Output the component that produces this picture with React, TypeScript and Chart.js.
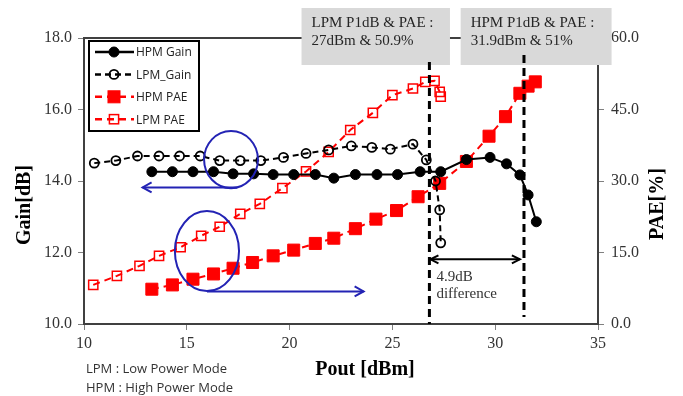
import React, { useEffect, useRef } from 'react';
import { Chart, registerables } from 'chart.js';

Chart.register(...registerables);

// ---- data ----
const hpmGainX = [13.3, 14.3, 15.3, 16.3, 17.25, 18.25, 19.2, 20.2, 21.25, 22.15, 23.2, 24.25, 25.25, 26.35, 27.35, 28.6, 29.75, 30.55, 31.2, 31.6, 32.0];
const hpmGainY = [14.26, 14.26, 14.26, 14.26, 14.2, 14.2, 14.18, 14.18, 14.18, 14.08, 14.18, 14.18, 14.18, 14.26, 14.26, 14.6, 14.66, 14.48, 14.17, 13.61, 12.86];

const lpmGainX = [10.5, 11.55, 12.6, 13.65, 14.65, 15.65, 16.6, 17.6, 18.6, 19.7, 20.8, 21.9, 23.0, 24.0, 24.9, 26.0, 26.65, 27.1, 27.3, 27.35];
const lpmGainY = [14.5, 14.57, 14.7, 14.7, 14.7, 14.7, 14.57, 14.57, 14.57, 14.66, 14.77, 14.87, 14.98, 14.94, 14.89, 15.03, 14.59, 14.0, 13.19, 12.27];

const hpmPaeX = [13.3, 14.3, 15.3, 16.3, 17.25, 18.2, 19.2, 20.2, 21.25, 22.15, 23.2, 24.2, 25.2, 26.25, 27.3, 28.6, 29.7, 30.5, 31.2, 31.6, 31.95];
const hpmPaeY = [7.3, 8.2, 9.4, 10.5, 11.7, 12.9, 14.3, 15.5, 16.9, 18.0, 20.0, 22.0, 23.8, 26.7, 29.5, 34.1, 39.4, 43.5, 48.4, 49.9, 50.8];

const lpmPaeX = [10.45, 11.6, 12.7, 13.65, 14.7, 15.7, 16.6, 17.6, 18.55, 19.65, 20.8, 21.9, 22.95, 24.05, 25.0, 26.0, 26.6, 27.05, 27.3, 27.35];
const lpmPaeY = [8.2, 10.1, 12.2, 14.3, 16.1, 18.5, 20.4, 23.1, 25.2, 28.5, 32.0, 36.1, 40.7, 44.3, 48.0, 49.4, 50.8, 51.0, 48.7, 47.7];

const seriesLabels = ['HPM Gain', 'LPM_Gain', 'HPM PAE', 'LPM PAE'];

const xRange = [10, 35];
const gainRange = [10, 18];
const paeRange = [0, 60];
const xStep = 5;
const gainStep = 2;
const paeStep = 15;

// annotation values (in data units)
const p1dbLines = [26.8, 31.4]; // dBm
const annotationTexts = [
  ['LPM P1dB & PAE :', '27dBm & 50.9%'],
  ['HPM P1dB & PAE :', '31.9dBm & 51%'],
];
const annotationBoxX = [[20.58, 27.8], [28.32, 35.66]];
const diffTexts = ['4.9dB', 'difference'];
const diffArrow = { from: 26.85, to: 31.2, gain: 11.81 };
const ellipses = [
  { x: 17.15, gain: 14.6, rx: 1.31, ry: 0.8 },
  { x: 15.98, gain: 12.04, rx: 1.56, ry: 1.12 },
];
const blueArrows = [
  { from: 17.45, to: 12.85, gain: 13.82 },
  { from: 15.98, to: 23.6, gain: 10.91 },
];
const notes = ['LPM : Low Power Mode', 'HPM : High Power Mode'];
const axisTitles = { x: 'Pout [dBm]', y: 'Gain[dB]', y2: 'PAE[%]' };

const toXY = (xs: number[], ys: number[]) => xs.map((x, i) => ({ x, y: ys[i] }));

const SERIF = '"Liberation Serif", "Times New Roman", serif';
const SANS = '"Open Sans", "Noto Sans", sans-serif';

function chevron(ctx: CanvasRenderingContext2D, x: number, y: number, dir: number, len = 9, half = 5) {
  ctx.beginPath();
  ctx.moveTo(x - dir * len, y - half);
  ctx.lineTo(x, y);
  ctx.lineTo(x - dir * len, y + half);
  ctx.stroke();
}

const overlay = {
  id: 'overlay',
  afterDraw(chart: any) {
    const { ctx, chartArea: a, scales } = chart;
    const xs = scales.x;
    const yg = scales.y;
    ctx.save();

    // top frame line
    ctx.strokeStyle = '#404040';
    ctx.lineWidth = 2;
    ctx.beginPath();
    ctx.moveTo(a.left, a.top);
    ctx.lineTo(a.right, a.top);
    ctx.stroke();

    // annotation boxes
    annotationTexts.forEach((lines, i) => {
      const x0 = xs.getPixelForValue(annotationBoxX[i][0]);
      const x1 = xs.getPixelForValue(annotationBoxX[i][1]);
      const y0 = a.top - 30;
      const y1 = a.top + 27;
      ctx.fillStyle = '#d9d9d9';
      ctx.fillRect(x0, y0, x1 - x0, y1 - y0);
      ctx.fillStyle = '#262626';
      ctx.font = `15px ${SERIF}`;
      ctx.textAlign = 'left';
      ctx.textBaseline = 'middle';
      ctx.fillText(lines[0], x0 + 10, y0 + 15);
      ctx.fillText(lines[1], x0 + 10, y0 + 33);
    });

    // vertical dashed P1dB lines
    ctx.strokeStyle = '#000';
    ctx.lineWidth = 3;
    ctx.setLineDash([8, 5]);
    const tops = [a.top + 24, a.top + 17];
    const bottoms = [a.bottom, a.bottom - 7];
    p1dbLines.forEach((v, i) => {
      const px = xs.getPixelForValue(v);
      ctx.beginPath();
      ctx.moveTo(px, tops[i]);
      ctx.lineTo(px, bottoms[i]);
      ctx.stroke();
    });
    ctx.setLineDash([]);

    // double arrow
    const dy = yg.getPixelForValue(diffArrow.gain);
    const dx0 = xs.getPixelForValue(diffArrow.from);
    const dx1 = xs.getPixelForValue(diffArrow.to);
    ctx.lineWidth = 2;
    ctx.beginPath();
    ctx.moveTo(dx0, dy);
    ctx.lineTo(dx1, dy);
    ctx.stroke();
    chevron(ctx, dx0, dy, -1, 8, 4);
    chevron(ctx, dx1, dy, 1, 8, 4);
    ctx.fillStyle = '#333';
    ctx.font = `15px ${SERIF}`;
    ctx.textAlign = 'left';
    ctx.textBaseline = 'middle';
    ctx.fillText(diffTexts[0], dx0 + 6, dy + 18);
    ctx.fillText(diffTexts[1], dx0 + 6, dy + 35);

    // blue ellipses and arrows
    ctx.strokeStyle = '#2323b4';
    ctx.lineWidth = 2;
    const pxPerX = Math.abs(xs.getPixelForValue(1) - xs.getPixelForValue(0));
    const pxPerG = Math.abs(yg.getPixelForValue(1) - yg.getPixelForValue(0));
    ellipses.forEach((e) => {
      ctx.beginPath();
      ctx.ellipse(xs.getPixelForValue(e.x), yg.getPixelForValue(e.gain), e.rx * pxPerX, e.ry * pxPerG, 0, 0, Math.PI * 2);
      ctx.stroke();
    });
    blueArrows.forEach((ar) => {
      const y = yg.getPixelForValue(ar.gain);
      const x0 = xs.getPixelForValue(ar.from);
      const x1 = xs.getPixelForValue(ar.to);
      ctx.beginPath();
      ctx.moveTo(x0, y);
      ctx.lineTo(x1, y);
      ctx.stroke();
      chevron(ctx, x1, y, x1 > x0 ? 1 : -1, 9, 5);
    });

    // legend
    const lx = a.left + 5;
    const ly = a.top + 3;
    ctx.fillStyle = '#fff';
    ctx.fillRect(lx, ly, 110, 90);
    ctx.strokeStyle = '#000';
    ctx.lineWidth = 2;
    ctx.strokeRect(lx, ly, 110, 90);
    const dsets = chart.data.datasets;
    dsets.forEach((ds: any, i: number) => {
      const y = ly + 11 + i * 22.4;
      ctx.strokeStyle = ds.borderColor;
      ctx.lineWidth = 2.5;
      ctx.setLineDash(ds.borderDash || []);
      ctx.beginPath();
      ctx.moveTo(lx + 6, y);
      ctx.lineTo(lx + 45, y);
      ctx.stroke();
      ctx.setLineDash([]);
      const mx = lx + 25;
      ctx.lineWidth = ds.pointBorderWidth;
      ctx.strokeStyle = ds.pointBorderColor;
      ctx.fillStyle = ds.pointBackgroundColor;
      if (ds.pointStyle === 'circle') {
        ctx.beginPath();
        ctx.arc(mx, y, ds.pointRadius, 0, Math.PI * 2);
        ctx.fill();
        ctx.stroke();
      } else {
        const s = Math.SQRT1_2 * ds.pointRadius;
        ctx.fillRect(mx - s, y - s, 2 * s, 2 * s);
        ctx.strokeRect(mx - s, y - s, 2 * s, 2 * s);
      }
      ctx.fillStyle = '#222';
      ctx.font = `12px ${SANS}`;
      ctx.textAlign = 'left';
      ctx.textBaseline = 'middle';
      ctx.fillText(ds.label, lx + 47, y + 1);
    });

    // axis titles
    ctx.fillStyle = '#000';
    ctx.font = `bold 20px ${SERIF}`;
    ctx.textAlign = 'center';
    ctx.textBaseline = 'middle';
    ctx.save();
    ctx.translate(25, a.top + 167);
    ctx.rotate(-Math.PI / 2);
    ctx.fillText(axisTitles.y, 0, 0);
    ctx.restore();
    ctx.save();
    ctx.translate(658, a.top + 166);
    ctx.rotate(-Math.PI / 2);
    ctx.fillText(axisTitles.y2, 0, 0);
    ctx.restore();
    ctx.fillText(axisTitles.x, 365, a.bottom + 46);

    // notes
    ctx.fillStyle = '#333';
    ctx.font = `13px ${SANS}`;
    ctx.textAlign = 'left';
    ctx.fillText(notes[0], a.left + 2, a.bottom + 45);
    ctx.fillText(notes[1], a.left + 2, a.bottom + 64);

    ctx.restore();
  },
};

export default function App() {
  const ref = useRef<HTMLCanvasElement>(null);

  useEffect(() => {
    document.body.style.margin = '0';
    const canvas = ref.current!;
    const tickFont = { family: SERIF, size: 16 };
    const chart = new Chart(canvas, {
      type: 'scatter',
      data: {
        datasets: [
          {
            label: seriesLabels[0],
            data: toXY(hpmGainX, hpmGainY),
            yAxisID: 'y',
            showLine: true,
            borderColor: '#000',
            borderWidth: 2,
            pointStyle: 'circle',
            pointRadius: 5,
            pointBackgroundColor: '#000',
            pointBorderColor: '#000',
            pointBorderWidth: 1,
          },
          {
            label: seriesLabels[1],
            data: toXY(lpmGainX, lpmGainY),
            yAxisID: 'y',
            showLine: true,
            borderColor: '#000',
            borderWidth: 2,
            borderDash: [6, 4],
            pointStyle: 'circle',
            pointRadius: 4.5,
            pointBackgroundColor: 'rgba(0,0,0,0)',
            pointBorderColor: '#000',
            pointBorderWidth: 1.8,
          },
          {
            label: seriesLabels[2],
            data: toXY(hpmPaeX, hpmPaeY),
            yAxisID: 'y2',
            showLine: true,
            borderColor: '#ff0000',
            borderWidth: 2,
            borderDash: [7, 5],
            pointStyle: 'rect',
            pointRadius: 8.5,
            pointBackgroundColor: '#ff0000',
            pointBorderColor: '#ff0000',
            pointBorderWidth: 1,
          },
          {
            label: seriesLabels[3],
            data: toXY(lpmPaeX, lpmPaeY),
            yAxisID: 'y2',
            showLine: true,
            borderColor: '#ff0000',
            borderWidth: 2,
            borderDash: [7, 5],
            pointStyle: 'rect',
            pointRadius: 6.5,
            pointBackgroundColor: 'rgba(0,0,0,0)',
            pointBorderColor: '#ff0000',
            pointBorderWidth: 1.5,
          },
        ] as any,
      },
      options: {
        animation: false,
        responsive: false,
        devicePixelRatio: 1,
        layout: { padding: { top: 38, left: 0, right: 0, bottom: 0 } },
        plugins: { legend: { display: false }, tooltip: { enabled: false }, title: { display: false } },
        elements: { line: { tension: 0 } },
        scales: {
          x: {
            type: 'linear',
            min: xRange[0],
            max: xRange[1],
            ticks: { stepSize: xStep, font: tickFont, color: '#333', padding: 4 },
            grid: { display: true, drawOnChartArea: false, drawTicks: true, tickLength: 6, color: '#808080' },
            border: { display: true, color: '#404040', width: 2 },
            afterFit: (s: any) => { s.height = 72; },
          },
          y: {
            type: 'linear',
            position: 'left',
            min: gainRange[0],
            max: gainRange[1],
            ticks: { stepSize: gainStep, font: tickFont, color: '#333', padding: 6, callback: (v: any) => Number(v).toFixed(1) },
            grid: { display: true, drawOnChartArea: false, drawTicks: true, tickLength: 6, color: '#808080' },
            border: { display: true, color: '#404040', width: 2 },
            afterFit: (s: any) => { s.width = 84; },
          },
          y2: {
            type: 'linear',
            position: 'right',
            min: paeRange[0],
            max: paeRange[1],
            ticks: { stepSize: paeStep, font: tickFont, color: '#333', padding: 7, callback: (v: any) => Number(v).toFixed(1) },
            grid: { display: true, drawOnChartArea: false, drawTicks: true, tickLength: 6, color: '#808080' },
            border: { display: true, color: '#404040', width: 2 },
            afterFit: (s: any) => { s.width = 85; },
          },
        },
      } as any,
      plugins: [overlay],
    });
    return () => chart.destroy();
  }, []);

  return (
    <div style={{ position: 'absolute', left: 0, top: 0, width: 683, height: 396, background: '#fff' }}>
      <canvas ref={ref} width={683} height={396} style={{ width: 683, height: 396, display: 'block' }} />
    </div>
  );
}
